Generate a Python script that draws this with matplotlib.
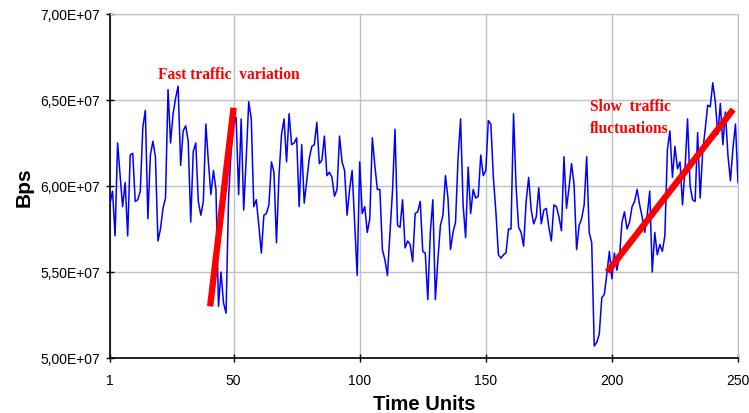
import matplotlib
matplotlib.use("Agg")
import matplotlib.pyplot as plt
import numpy as np

# ---- data (values in units of 1E7 Bps) ----
bps_e7 = [
    5.90, 5.97, 5.71, 6.25, 6.06, 5.88, 6.02, 5.71, 6.18, 6.19,
    5.91, 5.92, 5.97, 6.34, 6.44, 5.81, 6.18, 6.26, 6.17, 5.68,
    5.75, 5.87, 5.93, 6.56, 6.25, 6.42, 6.51, 6.58, 6.12, 6.32,
    6.35, 6.26, 5.79, 6.20, 6.25, 5.91, 5.83, 5.91, 6.36, 6.14,
    5.95, 6.09, 5.98, 5.30, 5.50, 5.32, 5.26, 5.93, 6.20, 6.35,
    6.40, 5.95, 6.39, 5.86, 6.16, 6.49, 6.39, 5.88, 5.92, 5.77,
    5.61, 5.83, 5.84, 5.89, 6.14, 6.08, 5.67, 6.06, 6.30, 6.39,
    6.14, 6.42, 6.24, 6.25, 6.28, 5.88, 6.24, 5.90, 6.03, 6.16,
    6.23, 6.24, 6.37, 6.13, 6.15, 6.29, 6.06, 6.08, 6.05, 5.94,
    5.98, 6.29, 6.14, 6.09, 5.83, 5.98, 6.09, 5.79, 5.48, 6.14,
    5.84, 5.88, 5.73, 5.81, 6.28, 6.12, 5.98, 5.98, 5.63, 5.57,
    5.48, 5.73, 5.97, 6.33, 5.77, 5.76, 5.92, 5.64, 5.68, 5.66,
    5.56, 5.84, 5.85, 5.91, 5.62, 5.61, 5.34, 5.73, 5.92, 5.34,
    5.57, 5.77, 5.83, 6.06, 5.93, 5.63, 5.73, 5.79, 6.16, 6.39,
    5.89, 5.70, 6.11, 5.84, 5.98, 5.93, 5.94, 6.18, 6.06, 6.09,
    6.38, 6.36, 6.05, 5.85, 5.60, 5.58, 5.60, 5.61, 5.75, 5.75,
    6.42, 6.00, 5.76, 5.73, 5.65, 5.91, 6.05, 5.86, 5.78, 5.82,
    5.99, 5.78, 5.86, 5.87, 5.76, 5.68, 5.89, 5.88, 5.82, 5.74,
    6.17, 5.87, 5.99, 6.13, 6.01, 5.63, 5.77, 5.81, 5.89, 6.17,
    5.73, 5.67, 5.07, 5.09, 5.14, 5.35, 5.37, 5.49, 5.62, 5.46,
    5.61, 5.51, 5.59, 5.79, 5.85, 5.75, 5.79, 5.88, 5.91, 5.98,
    5.89, 5.82, 5.73, 5.83, 5.97, 5.50, 5.73, 5.60, 5.66, 5.62,
    5.71, 6.21, 6.32, 6.05, 6.23, 6.10, 6.14, 5.89, 6.10, 6.39,
    6.00, 5.92, 5.91, 6.31, 5.93, 6.20, 6.33, 6.47, 6.46, 6.60,
    6.49, 6.30, 6.48, 6.24, 6.43, 6.18, 6.03, 6.22, 6.36, 6.02,
]
time_units = list(range(1, len(bps_e7) + 1))

x_ticks = [1, 50, 100, 150, 200, 250]
y_ticks = [5.0e7, 5.5e7, 6.0e7, 6.5e7, 7.0e7]
y_tick_labels = ["5,00E+07", "5,50E+07", "6,00E+07", "6,50E+07", "7,00E+07"]

fast_x = [40.7, 50.0]
fast_y = [5.30e7, 6.455e7]
slow_x = [198.2, 248.1]
slow_y = [5.50e7, 6.445e7]

fast_label = "Fast traffic  variation"
slow_label_1 = "Slow  traffic"
slow_label_2 = "fluctuations"

# ---- figure ----
fig = plt.figure(figsize=(7.49, 4.14), dpi=100)
ax = fig.add_axes([0.1469, 0.1329, 0.9853 - 0.1469, 0.9638 - 0.1329])

y_vals = np.array(bps_e7) * 1e7
ax.plot(time_units, y_vals, color="#0000FF", linewidth=1.1, zorder=3)
ax.plot(fast_x, fast_y, color="#FF0000", linewidth=4.6, solid_capstyle="butt", zorder=4)
ax.plot(slow_x, slow_y, color="#FF0000", linewidth=4.6, solid_capstyle="butt", zorder=4)

serif = ["Liberation Serif", "DejaVu Serif"]
ax.text(20.0, 6.65e7, fast_label, color="#FF0000", fontweight="bold",
        fontsize=11.2, family=serif, ha="left", va="center", zorder=5)
ax.text(191.4, 6.465e7, slow_label_1, color="#FF0000", fontweight="bold",
        fontsize=11.2, family=serif, ha="left", va="center", zorder=5)
ax.text(191.4, 6.34e7, slow_label_2, color="#FF0000", fontweight="bold",
        fontsize=11.2, family=serif, ha="left", va="center", zorder=5)

ax.set_xlim(1, 250)
ax.set_ylim(5.0e7, 7.0e7)
ax.set_xticks(x_ticks)
ax.set_xticklabels([str(t) for t in x_ticks])
ax.set_yticks(y_ticks)
ax.set_yticklabels(y_tick_labels)

sans = ["Liberation Sans", "DejaVu Sans"]
for lab in ax.get_xticklabels() + ax.get_yticklabels():
    lab.set_family(sans)
    lab.set_fontsize(10)

ax.grid(True, color="#C0C0C0", linewidth=1.0, zorder=0)
ax.set_axisbelow(True)

ax.spines["left"].set_color("black")
ax.spines["bottom"].set_color("black")
ax.spines["left"].set_linewidth(1.2)
ax.spines["bottom"].set_linewidth(1.2)
ax.spines["top"].set_color("#C0C0C0")
ax.spines["right"].set_color("#C0C0C0")
ax.tick_params(axis="both", direction="inout", length=6, width=1.0, color="black", pad=4)
ax.tick_params(axis="x", pad=8)

ax.set_xlabel("Time Units", fontsize=14.5, fontweight="bold", family=sans, labelpad=5)
ax.set_ylabel("Bps", fontsize=15, fontweight="bold", family=sans, labelpad=5)

fig.savefig("out.png", dpi=100)
